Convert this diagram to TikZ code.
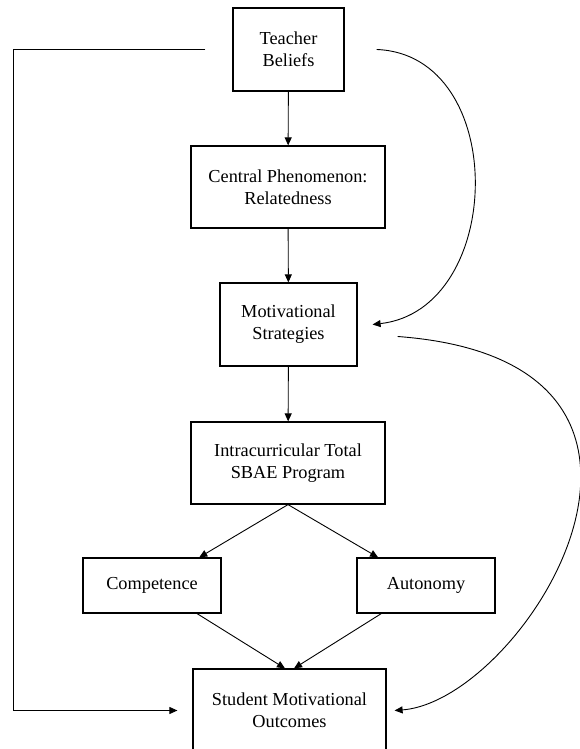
\documentclass[tikz,border=0pt]{standalone}
\usepackage{fontspec}
\setmainfont{Liberation Serif}
\usetikzlibrary{arrows.meta,positioning,calc}

\begin{document}
\begin{tikzpicture}[x=1pt, y=1pt,
       >={Triangle[length=8pt,width=7pt]}, line width=0.9pt,
       every node/.style={font=\fontsize{18.3}{22}\selectfont},
       stage/.style 2 args = {draw, line width=1.2pt, minimum width=#1,
                              minimum height=#2, align=center, inner sep=0pt}]

    \useasboundingbox[fill=white] (0,0) rectangle (580,749);

    %% The boxes of the model, top to bottom
    \node [stage={111pt}{83pt}] (teacher) at (288.5,699.5) {Teacher\\Beliefs};
    \node [stage={194pt}{82pt}] (central) at (288,562) {Central Phenomenon:\\Relatedness};
    \node [stage={137pt}{83pt}] (strat)   at (288.5,424.5) {Motivational\\Strategies};
    \node [stage={194pt}{82pt}] (sbae)    at (288,286) {Intracurricular Total\\SBAE Program};
    \node [stage={138pt}{55pt}] (comp)    at (152,163.5) {Competence};
    \node [stage={138pt}{55pt}] (auto)    at (426,163.5) {Autonomy};
    \node [stage={193pt}{83pt}] (student) at (289.5,38.5) {Student Motivational\\Outcomes};

    %% Straight arrows down the middle
    \draw[->] (teacher) -- (central);
    \draw[->] (central) -- (strat);
    \draw[->] (strat) -- (sbae);
    \draw[->] (sbae.south) -- (comp);
    \draw[->] (sbae.south) -- (auto);
    \draw[->] (comp) -- ([xshift=-4.5pt]student.north);
    \draw[->] (auto) -- ([xshift=4.5pt]student.north);

    %% Long line round the left side
    \coordinate (rail) at (13,699.5);
    \draw[->, shorten <=27pt, shorten >=15pt] (teacher.west) -- (rail) |- (student.west);

    %% The two curved arrows on the right
    \draw[->] ([xshift=32pt]teacher.east)
        .. controls +(133pt,-5pt) and +(133pt,15pt) .. ([xshift=15pt]strat.east);
    \draw[->] ([shift={(40pt,-12pt)}]strat.east)
        .. controls +(338pt,-25pt) and +(131pt,10pt) .. ([xshift=8pt]student.east);
\end{tikzpicture}
\end{document}
